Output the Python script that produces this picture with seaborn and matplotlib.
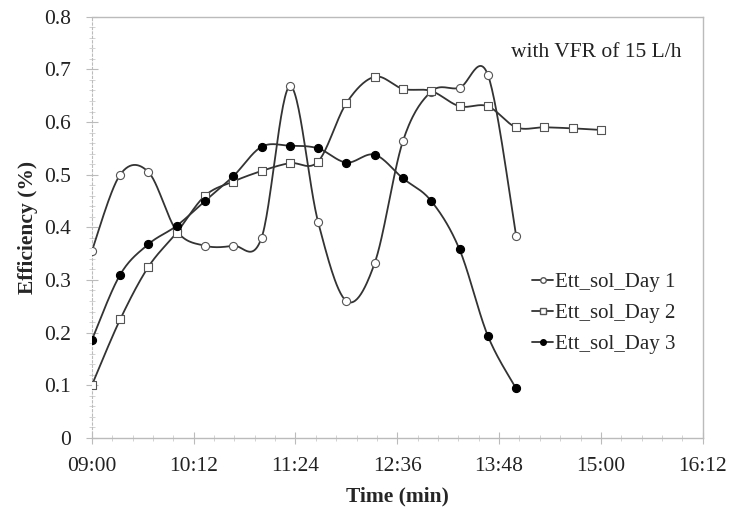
import numpy as np
import pandas as pd
import seaborn as sns
import matplotlib.pyplot as plt
from matplotlib.lines import Line2D
from matplotlib.ticker import FixedLocator, MultipleLocator, FuncFormatter

# ── Data (minutes since midnight, efficiency) ────────────────────────────────
time_day1 = [540, 560, 580, 600, 620, 640, 660, 680, 700, 720, 740, 760, 780, 800, 820, 840]
eff_day1  = [0.355, 0.500, 0.505, 0.393, 0.365, 0.365, 0.380, 0.668, 0.410, 0.260,
             0.332, 0.564, 0.658, 0.665, 0.690, 0.384]

time_day2 = [540, 560, 580, 600, 620, 640, 660, 680, 700, 720, 740, 760, 780, 800, 820,
             840, 860, 880, 900]
eff_day2  = [0.100, 0.225, 0.325, 0.390, 0.460, 0.487, 0.507, 0.522, 0.525, 0.636,
             0.686, 0.663, 0.659, 0.630, 0.630, 0.590, 0.590, 0.588, 0.585]

time_day3 = [540, 560, 580, 600, 620, 640, 660, 680, 700, 720, 740, 760, 780, 800, 820, 840]
eff_day3  = [0.186, 0.310, 0.368, 0.403, 0.450, 0.497, 0.553, 0.555, 0.550, 0.523,
             0.538, 0.493, 0.450, 0.358, 0.194, 0.094]

labels = ["Ett_sol_Day 1", "Ett_sol_Day 2", "Ett_sol_Day 3"]
x_ticks = [540, 612, 684, 756, 828, 900, 972]

df = pd.concat([
    pd.DataFrame({"time": time_day1, "eff": eff_day1, "series": labels[0]}),
    pd.DataFrame({"time": time_day2, "eff": eff_day2, "series": labels[1]}),
    pd.DataFrame({"time": time_day3, "eff": eff_day3, "series": labels[2]}),
])


def smooth(x, y, n=30):
    # Excel-style smoothed line (Catmull-Rom bezier through the points)
    p = np.column_stack([x, y]).astype(float)
    p = np.vstack([p[0], p, p[-1]])
    out = []
    t = np.linspace(0, 1, n)[:, None]
    for i in range(1, len(p) - 2):
        p0, p3 = p[i], p[i + 1]
        c1 = p0 + (p[i + 1] - p[i - 1]) / 6
        c2 = p3 - (p[i + 2] - p[i]) / 6
        seg = ((1 - t) ** 3) * p0 + 3 * ((1 - t) ** 2) * t * c1 + 3 * (1 - t) * t ** 2 * c2 + t ** 3 * p3
        out.append(seg)
    s = np.vstack(out)
    return s[:, 0], s[:, 1]


sns.set_style("white")
plt.rcParams["font.family"] = ["Liberation Serif", "DejaVu Serif"]

fig = plt.figure(figsize=(7.29, 5.08), dpi=100)
ax = fig.add_axes([0.126, 0.138, 0.838, 0.829])

styles = {
    labels[0]: dict(marker="o", mfc="white", mec="#555555"),
    labels[1]: dict(marker="s", mfc="white", mec="#555555"),
    labels[2]: dict(marker="o", mfc="black", mec="black"),
}
line_col = "#333333"

for name, g in df.groupby("series", sort=False):
    sx, sy = smooth(g["time"].values, g["eff"].values)
    ax.plot(sx, sy, color=line_col, lw=1.3, zorder=2)

for name, g in df.groupby("series", sort=False):
    st = styles[name]
    sns.scatterplot(data=g, x="time", y="eff", marker=st["marker"], s=34,
                    color=st["mfc"], edgecolor=st["mec"], linewidth=0.8,
                    ax=ax, zorder=3, legend=False)

ax.set_xlim(540, 972)
ax.set_ylim(0, 0.8)
ax.xaxis.set_major_locator(FixedLocator(x_ticks))
ax.xaxis.set_minor_locator(FixedLocator(np.arange(540, 973, 14.4)))
ax.xaxis.set_major_formatter(FuncFormatter(lambda v, p: f"{int(round(v))//60:02d}:{int(round(v))%60:02d}"))
ax.yaxis.set_major_locator(MultipleLocator(0.1))
ax.yaxis.set_minor_locator(MultipleLocator(0.02))
ax.yaxis.set_major_formatter(FuncFormatter(lambda v, p: "0" if abs(v) < 1e-9 else f"{v:.1f}"))

for side in ["top", "right", "bottom"]:
    ax.spines[side].set_color("#bbbbbb")
    ax.spines[side].set_linewidth(1.0)
ax.spines["left"].set_color("#bbbbbb")
ax.spines["left"].set_linestyle((0, (2, 2)))

ax.tick_params(axis="x", which="major", direction="inout", length=9, width=0.8,
               color="#bbbbbb", labelsize=15.5, labelcolor="#222222", bottom=True, pad=9)
ax.tick_params(axis="y", which="major", direction="inout", length=8, width=0.8,
               color="#bbbbbb", labelsize=15.5, labelcolor="#222222", left=True, pad=11)
ax.tick_params(axis="both", which="minor", direction="inout", length=5, width=0.6,
               color="#cccccc", bottom=True, left=True)

ax.set_xlabel("Time (min)", fontsize=15.5, fontweight="bold")
ax.set_ylabel("Efficiency (%)", fontsize=15.5, fontweight="bold")
ax.xaxis.set_label_coords(0.5, -0.115)
ax.yaxis.set_label_coords(-0.088, 0.5)

ax.text(0.965, 0.915, "with VFR of 15 L/h", transform=ax.transAxes, ha="right",
        va="center", fontsize=15.5, color="#222222")

handles = [Line2D([0], [0], color=line_col, lw=1.3, marker=styles[l]["marker"],
                  mfc=styles[l]["mfc"], mec=styles[l]["mec"], ms=5) for l in labels]
ax.legend(handles, labels, loc="center left", bbox_to_anchor=(0.69, 0.295), frameon=False,
          fontsize=15, handlelength=1.0, handletextpad=0.1, labelspacing=0.55,
          markerscale=0.8)

plt.savefig("out.png", dpi=100)
